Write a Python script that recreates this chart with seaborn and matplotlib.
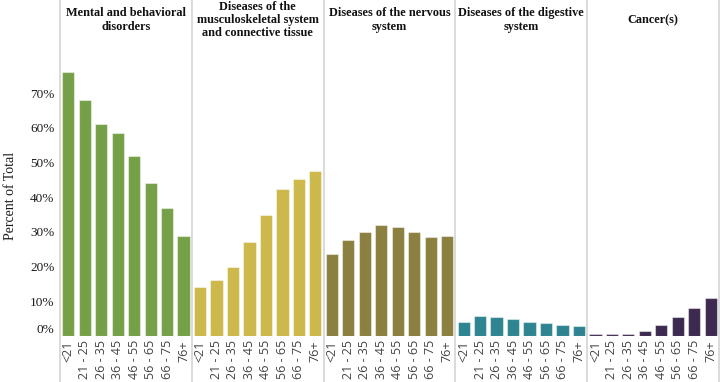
import numpy as np
import pandas as pd
import matplotlib
matplotlib.use("Agg")
import matplotlib.pyplot as plt
import seaborn as sns

# Data
age_groups = ["<21", "21 - 25", "26 - 35", "36 - 45", "46 - 55", "56 - 65", "66 - 75", "76+"]
categories = [
    "Mental and behavioral\ndisorders",
    "Diseases of the\nmusculoskeletal system\nand connective tissue",
    "Diseases of the nervous\nsystem",
    "Diseases of the digestive\nsystem",
    "Cancer(s)",
]
mental = [76.0, 68.0, 61.0, 58.5, 52.0, 44.0, 37.0, 28.8]
musculoskeletal = [14.0, 16.0, 20.0, 27.0, 35.0, 42.3, 45.3, 47.6]
nervous = [23.6, 27.8, 30.0, 32.0, 31.3, 30.0, 28.6, 28.8]
digestive = [4.0, 5.8, 5.5, 4.8, 4.1, 3.8, 3.2, 2.8]
cancer = [0.5, 0.5, 0.6, 1.5, 3.2, 5.4, 8.0, 11.0]
series = [mental, musculoskeletal, nervous, digestive, cancer]
colors = ["#76A048", "#CDB84C", "#8B8040", "#2E8591", "#3E2A50"]
y_ticks = [0, 10, 20, 30, 40, 50, 60, 70]

sns.set_style("white")
serif = ["Liberation Serif", "DejaVu Serif"]

fig = plt.figure(figsize=(7.2, 3.82), dpi=100)
W, H = 720, 382
left, right, base = 60, 719, 336
panel_w = (right - left) / len(categories)
y_max = 96.8

for i, (cat, vals, col) in enumerate(zip(categories, series, colors)):
    ax = fig.add_axes([(left + i * panel_w) / W, (H - base) / H, panel_w / W, base / H])
    df = pd.DataFrame({"age": age_groups, "pct": vals})
    sns.barplot(data=df, x="age", y="pct", color=col, ax=ax, width=0.74,
                edgecolor=(1, 1, 1, 0.45), linewidth=0.8, saturation=1)
    ax.set_ylim(0, y_max)
    ax.set_xlim(-0.5, len(age_groups) - 0.5)
    for s in ax.spines.values():
        s.set_visible(False)
    ax.set_xlabel("")
    ax.tick_params(axis="x", length=0, pad=3)
    ax.set_xticks(range(len(age_groups)))
    ax.set_xticklabels(age_groups, rotation=90, fontsize=9, family="Open Sans", color="#444444")
    ax.axvline(-0.5, ymin=-0.14, ymax=1, color="#d4d4d4", lw=1.2, clip_on=False)
    if i == len(categories) - 1:
        ax.axvline(len(age_groups) - 0.5, ymin=-0.14, ymax=1, color="#d4d4d4", lw=1.2, clip_on=False)
    ax.text(0.5, 1 - 20 / base, cat, transform=ax.transAxes, ha="center", va="center",
            fontsize=8.8, fontweight="bold", family=serif, linespacing=1.15, color="#111111")
    if i == 0:
        ax.set_yticks(y_ticks)
        ax.set_yticklabels([f"{t}%" for t in y_ticks], fontsize=9.5, family=serif, color="#1a1a1a")
        ax.tick_params(axis="y", length=0, pad=4)
        ax.get_yticklabels()[0].set_va("bottom")
        ax.set_ylabel("Percent of Total", fontsize=10, family=serif, color="#1a1a1a")
        ax.yaxis.set_label_coords(-0.33, 0.417)
    else:
        ax.set_yticks([])
        ax.set_ylabel("")

fig.savefig("out.png", dpi=100)
